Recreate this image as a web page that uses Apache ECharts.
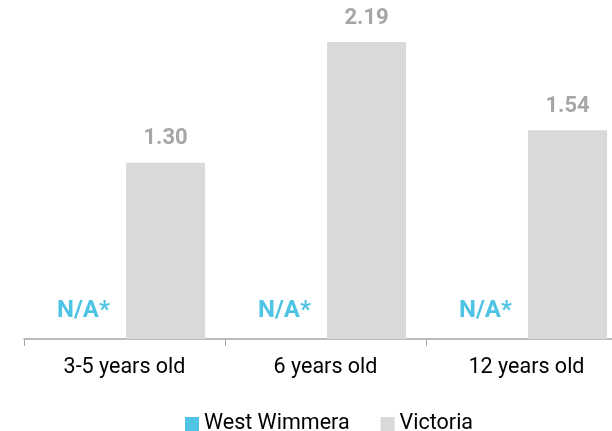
<!DOCTYPE html>
<html><head><meta charset="utf-8">
<script src="https://cdn.jsdelivr.net/npm/echarts@6/dist/echarts.min.js"></script>
<style>html,body{margin:0;padding:0;background:#fff;overflow:hidden;width:612px;height:431px}#c{width:640px;height:431px}</style>
</head><body><div id="c"></div>
<script>
const categories = ['3-5 years old', '6 years old', '12 years old'];
const westValues = [0, 0, 0];
const westLabels = ['N/A*', 'N/A*', 'N/A*'];
const victoriaValues = [1.30, 2.19, 1.54];
const seriesNames = ['West Wimmera', 'Victoria'];

const chart = echarts.init(document.getElementById('c'));
chart.setOption({
  animation: false,
  textStyle: { fontFamily: 'Roboto' },
  grid: { left: 24, top: 0, height: 339, width: 603 },
  legend: {
    bottom: -9, left: 180, itemWidth: 14, itemHeight: 14, itemGap: 31,
    icon: 'rect',
    textStyle: { fontSize: 21.5, color: '#000', fontFamily: 'Roboto' },
    data: seriesNames
  },
  xAxis: {
    type: 'category', data: categories,
    axisLine: { lineStyle: { color: '#a6a6a6', width: 1.5 } },
    axisTick: { show: true, length: 7, lineStyle: { color: '#a6a6a6' } },
    axisLabel: { fontSize: 21.5, color: '#000', margin: 18, fontFamily: 'Roboto' }
  },
  yAxis: { type: 'value', min: 0, max: 2.5, show: false, splitLine: { show: false } },
  series: [
    {
      name: seriesNames[0], type: 'bar', data: westValues, barWidth: 79, barGap: '4%',
      itemStyle: { color: '#4ec3e3' },
      label: {
        show: true, position: 'top', distance: 16,
        formatter: p => westLabels[p.dataIndex],
        color: '#4ec3e3', fontWeight: 'bold', fontSize: 24, fontFamily: 'Roboto'
      }
    },
    {
      name: seriesNames[1], type: 'bar', data: victoriaValues, barWidth: 79,
      itemStyle: { color: '#d9d9d9' },
      label: {
        show: true, position: 'top', distance: 13,
        formatter: p => p.value.toFixed(2),
        color: '#a6a6a6', fontWeight: 'bold', fontSize: 22, fontFamily: 'Roboto'
      }
    }
  ]
});
</script></body></html>
